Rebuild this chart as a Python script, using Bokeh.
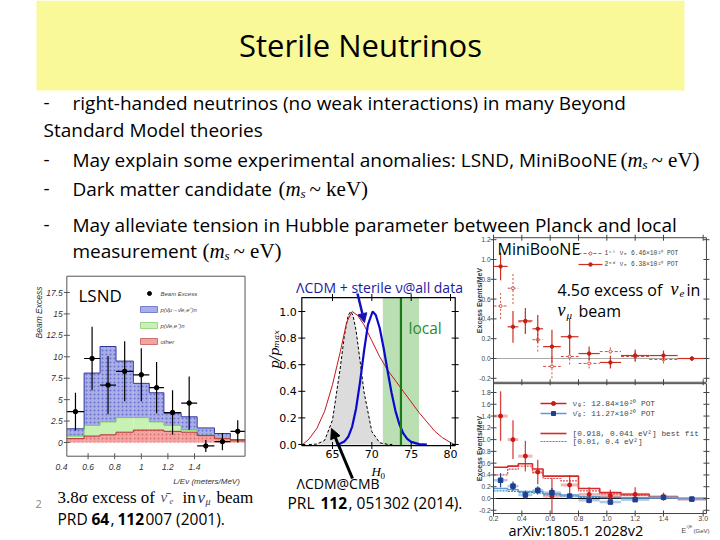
from math import pi
import numpy as np
from bokeh.plotting import figure
from bokeh.models import Range1d, Arrow, NormalHead
from bokeh.core.properties import value
from bokeh.embed import file_html
from bokeh.resources import INLINE

# ------------------------------------------------------------------ data
# LSND beam excess vs L/E (bin edges read against the printed tick labels)
lsnd_edges = [0.44, 0.57, 0.69, 0.81, 0.94, 1.06, 1.17, 1.30, 1.42, 1.55, 1.67, 1.78]
lsnd_excess = [3.6, 9.8, 6.7, 8.3, 7.9, 6.4, 3.5, 4.6, -0.4, 0.1, 1.3]
lsnd_excess_err = [2.2, 3.7, 3.4, 3.5, 3.1, 3.0, 2.6, 3.1, 0.7, 1.0, 1.3]
lsnd_other = [0.45, 0.75, 0.9, 1.2, 1.45, 1.45, 1.3, 1.2, 0.8, 0.45, 0.2]
lsnd_nuebar = [0.3, 1.25, 1.5, 1.7, 1.45, 0.95, 0.7, 0.25, 0.05, 0.15, 0.1]
lsnd_osc = [0.85, 6.1, 8.8, 6.6, 4.0, 3.4, 1.4, 1.55, 0.85, 0.45, 0.05]
lsnd_xticks = [0.4, 0.6, 0.8, 1.0, 1.2, 1.4]
lsnd_xtick_labels = ["0.4", "0.6", "0.8", "1", "1.2", "1.4"]
lsnd_yticks = [0, 2.5, 5, 7.5, 10, 12.5, 15, 17.5]
lsnd_ytick_labels = ["0", "2.5", "5", "7.5", "10", "12.5", "15", "17.5"]
lsnd_legend = ["Beam Excess", "p(ν̄μ→ν̄e,e⁺)n", "p(ν̄e,e⁺)n", "other"]

# H0 posteriors (p / p_max)
h0_cmb_x = [62.0, 63.0, 64.0, 65.0, 66.0, 66.5, 67.0, 67.3, 67.6, 68.0, 68.5, 69.0, 70.0, 71.0, 72.0, 72.6]
h0_cmb_p = [0.0, 0.003, 0.031, 0.184, 0.582, 0.815, 0.972, 1.0, 0.972, 0.855, 0.631, 0.397, 0.097, 0.013, 0.001, 0.0]
h0_sterile_x = [65.5, 66.0, 66.5, 67.0, 67.5, 68.0, 68.5, 69.0, 69.5, 70.1, 70.5, 71.0, 71.5, 72.0,
                72.5, 73.0, 73.5, 74.0, 74.5, 75.0, 76.0, 77.0]
h0_sterile_p = [0.0, 0.007, 0.022, 0.058, 0.135, 0.271, 0.469, 0.699, 0.899, 1.0, 0.974, 0.876, 0.726, 0.555,
                0.391, 0.253, 0.152, 0.083, 0.042, 0.020, 0.003, 0.0]
h0_wide_x = [61.2, 62.0, 63.0, 64.0, 65.0, 66.0, 66.8, 67.5, 68.2, 69.0, 70.0, 71.0, 72.0, 73.0, 74.0,
             75.0, 76.0, 77.0, 78.0, 79.0, 80.0, 80.5]
h0_wide_p = [0.0, 0.04, 0.12, 0.25, 0.45, 0.7, 0.92, 1.0, 0.97, 0.9, 0.78, 0.66, 0.56, 0.48, 0.40,
             0.32, 0.24, 0.17, 0.10, 0.05, 0.015, 0.0]
h0_local_band = [71.4, 76.0]
h0_local = 73.7
h0_xticks = [65, 70, 75, 80]
h0_xtick_labels = ["65", "70", "75", "80"]
h0_yticks = [0.0, 0.2, 0.4, 0.6, 0.8, 1.0]
h0_ytick_labels = ["0.0", "0.2", "0.4", "0.6", "0.8", "1.0"]

# MiniBooNE excess events / MeV (last bin 1.5-3.0 GeV is drawn compressed)
mb_edges = [0.2, 0.3, 0.375, 0.475, 0.55, 0.675, 0.8, 0.95, 1.1, 1.3, 1.5, 1.7]
mb_centers = [0.25, 0.3375, 0.425, 0.5125, 0.6125, 0.7375, 0.875, 1.025, 1.2, 1.4, 1.6]
mb_run1 = [0.53, 0.71, 0.37, 0.19, -0.08, 0.02, -0.05, 0.07, 0.02, -0.01, 0.0]
mb_run1_err = [0.13, 0.16, 0.12, 0.12, 0.12, 0.08, 0.05, 0.06, 0.05, 0.04, 0.02]
mb_run2 = [0.93, 0.32, 0.38, 0.30, 0.12, 0.22, 0.05, -0.04, 0.03, 0.03, 0.0]
mb_run2_err = [0.14, 0.16, 0.13, 0.14, 0.17, 0.18, 0.07, 0.06, 0.06, 0.05, 0.02]
mb_nu = [1.40, 1.00, 0.72, 0.45, 0.04, 0.23, 0.07, 0.05, 0.07, 0.03, -0.01]
mb_nu_err = [0.42, 0.33, 0.26, 0.21, 0.30, 0.17, 0.12, 0.10, 0.12, 0.07, 0.02]
mb_nubar = [0.31, 0.21, 0.06, 0.14, 0.10, 0.04, -0.03, -0.06, -0.02, 0.02, -0.01]
mb_nubar_err = [0.12, 0.08, 0.07, 0.07, 0.08, 0.05, 0.05, 0.04, 0.04, 0.03, 0.02]
mb_fit_nu = [0.53, 0.55, 0.59, 0.50, 0.38, 0.38, 0.17, 0.10, 0.07, 0.03, 0.0]
mb_fit_nu_alt = [0.40, 0.50, 0.55, 0.44, 0.34, 0.30, 0.13, 0.08, 0.05, 0.02, 0.0]
mb_fit_nubar = [0.17, 0.15, 0.12, 0.12, 0.08, 0.06, 0.03, 0.02, 0.01, 0.01, 0.0]
mb_fit_nubar_alt = [0.13, 0.12, 0.10, 0.09, 0.06, 0.04, 0.02, 0.01, 0.01, 0.0, 0.0]
mb_xticks = [0.2, 0.4, 0.6, 0.8, 1.0, 1.2, 1.4, 1.68]
mb_xtick_labels = ["0.2", "0.4", "0.6", "0.8", "1.0", "1.2", "1.4", "3.0"]
mb_top_yticks = [-0.2, 0.0, 0.2, 0.4, 0.6, 0.8, 1.0, 1.2]
mb_top_ytick_labels = ["-0.2", "0.0", "0.2", "0.4", "0.6", "0.8", "1.0", "1.2"]
mb_bot_yticks = [-0.2, 0.0, 0.2, 0.4, 0.6, 0.8, 1.0, 1.2, 1.4, 1.6, 1.8]
mb_bot_ytick_labels = ["-0.2", "0.0", "0.2", "0.4", "0.6", "0.8", "1.0", "1.2", "1.4", "1.6", "1.8"]

# ------------------------------------------------------------------ canvas
PX0, PX1, PY0, PY1 = 0, 720, 540, 0
p = figure(width=720, height=540, x_range=Range1d(PX0, PX1), y_range=Range1d(PY0, PY1),
           toolbar_location=None, output_backend="svg", min_border=0,
           x_axis_location=None, y_axis_location=None)
p.xgrid.visible = False
p.ygrid.visible = False
p.outline_line_color = None
p.background_fill_color = "white"
p.border_fill_color = "white"

xr, yr = {}, {}


def map_x(name, va, pa, vb, pb):
    s = (pb - pa) / (vb - va)
    xr[name] = Range1d(va - (pa - PX0) / s, va + (PX1 - pa) / s)


def map_y(name, va, pa, vb, pb):
    s = (pa - pb) / (vb - va)
    yr[name] = Range1d(va - (PY0 - pa) / s, va + (pa - PY1) / s)


map_x("lx", 0.4, 61, 1.4, 194)
map_y("ly", 0.0, 442, 17.5, 292)
map_x("hx", 65, 332, 80, 450)
map_y("hy", 0.0, 444, 1.0, 311)
map_x("mx", 0.2, 493, 1.4, 663)
map_y("mt", 0.0, 358, 1.0, 259)
map_y("mb", 0.0, 498, 1.8, 392)
p.extra_x_ranges = xr
p.extra_y_ranges = yr

LS = dict(x_range_name="lx", y_range_name="ly")
HS = dict(x_range_name="hx", y_range_name="hy")
MT = dict(x_range_name="mx", y_range_name="mt")
MB = dict(x_range_name="mx", y_range_name="mb")


def txt(x, y, s, size, font="Open Sans", color="black", style="normal", align="left",
        baseline="middle", angle=0.0, rng=None, xo=0, yo=0):
    if isinstance(s, str):
        x, y, s = [x], [y], [s]
    p.text(x=list(x), y=list(y), text=list(s), text_font=value(font), text_font_size=f"{size}px",
           text_color=color, text_font_style=style, text_align=align, text_baseline=baseline,
           angle=angle, x_offset=xo, y_offset=yo, **(rng or {}))


def math_ms(x, y, unit, size=21):
    txt(x, y, "(", size, font="Liberation Serif")
    txt(x + 7, y, "m", size, font="Liberation Serif", style="italic")
    txt(x + 22, y + 5, "s", size * 0.62, font="Liberation Serif", style="italic")
    txt(x + 31, y, "~ " + unit + ")", size, font="Liberation Serif")


# ------------------------------------------------------------------ slide header + text
p.quad(left=[36], right=[684], top=[0], bottom=[90], fill_color="#FAF99A", line_color=None)
txt(360, 44, "Sterile Neutrinos", 31, align="center")

BODY = 19
txt(43, 102, "-", BODY)
txt(72, 102, "right-handed neutrinos (no weak interactions) in many Beyond", BODY)
txt(43, 129, "Standard Model theories", BODY)
txt(43, 159, "-", BODY)
txt(72, 159, "May explain some experimental anomalies: LSND, MiniBooNE", BODY)
math_ms(620, 159, "eV")
txt(43, 188, "-", BODY)
txt(72, 188, "Dark matter candidate", BODY)
math_ms(278, 188, "keV")
txt(43, 224, "-", BODY)
txt(72, 224, "May alleviate tension in Hubble parameter between Planck and local", BODY)
txt(72, 250, "measurement", BODY)
math_ms(202, 250, "eV")

# ------------------------------------------------------------------ LSND inset
e = np.array(lsnd_edges)
lo, hi = e[:-1], e[1:]
mid = (lo + hi) / 2
c1 = np.array(lsnd_other)
c2 = c1 + np.array(lsnd_nuebar)
c3 = c2 + np.array(lsnd_osc)
p.quad(left=lo, right=hi, bottom=0, top=c1, fill_color="#F4A3A3", line_color=None,
       hatch_pattern=".", hatch_color="#C83C3C", hatch_alpha=0.5, hatch_scale=4, **LS)
p.quad(left=lo, right=hi, bottom=c1, top=c2, fill_color="#C8F2B4", line_color=None, **LS)
p.quad(left=lo, right=hi, bottom=c2, top=c3, fill_color="#A9AEEA", line_color=None,
       hatch_pattern=".", hatch_color="#3A48B2", hatch_alpha=0.6, hatch_scale=4, **LS)
p.step(x=e, y=np.append(c3, c3[-1]), mode="after", line_color="#2E3A9A", line_width=1, **LS)
p.step(x=e, y=np.append(c2, c2[-1]), mode="after", line_color="#6DBF55", line_width=0.8, **LS)
p.step(x=e, y=np.append(c1, c1[-1]), mode="after", line_color="#B03030", line_width=1, **LS)
ex = np.array(lsnd_excess)
er = np.array(lsnd_excess_err)
p.segment(x0=mid, y0=ex - er, x1=mid, y1=ex + er, line_color="black", line_width=1.2, **LS)
p.segment(x0=lo, y0=ex, x1=hi, y1=ex, line_color="black", line_width=1.2, **LS)
p.scatter(x=mid, y=ex, size=4.5, marker="circle", color="black", **LS)
L_X0, L_X1, L_Y0, L_Y1 = lsnd_edges[0], lsnd_edges[-1], -1.6, 19.4
p.quad(left=[L_X0], right=[L_X1], bottom=[L_Y0], top=[L_Y1], fill_color=None,
       line_color="#555555", line_width=1, **LS)
p.scatter(x=[L_X0] * len(lsnd_yticks), y=lsnd_yticks, marker="dash", size=6, line_color="#555555", **LS)
xt_in = [t for t in lsnd_xticks if L_X0 <= t <= L_X1]
p.scatter(x=xt_in, y=[L_Y0] * len(xt_in), marker="dash", angle=pi / 2, size=6, line_color="#555555", **LS)
txt([L_X0] * len(lsnd_yticks), lsnd_yticks, lsnd_ytick_labels, 8.5, font="Liberation Sans",
    style="italic", align="right", color="#333333", rng=LS, xo=-4)
txt(lsnd_xticks, [L_Y0] * len(lsnd_xticks), lsnd_xtick_labels, 8.5, font="Liberation Sans",
    style="italic", align="center", baseline="top", color="#333333", rng=LS, yo=8)
txt(206, 481, "L/Eν (meters/MeV)", 8, font="Liberation Sans", style="italic", align="center", color="#333333")
txt(38, 312, "Beam Excess", 8.5, font="Liberation Sans", style="italic", align="center",
    color="#333333", angle=pi / 2)
txt(78, 295, "LSND", 17)
# legend
p.scatter(x=[149], y=[293], size=4, color="black")
p.quad(left=[140] * 3, right=[157] * 3, top=[306, 322, 338], bottom=[312, 328, 344],
       fill_color=["#A9AEEA", "#C8F2B4", "#F4A3A3"], line_color=["#3A48B2", "#6DBF55", "#B03030"],
       line_width=0.6)
txt([160] * 4, [293, 309, 325, 341], lsnd_legend, 6, font="Liberation Sans", style="italic", color="#444444")

# captions under LSND
txt(57, 497, "3.8σ excess of", 17, font="Liberation Serif")
txt(160, 496, "ν̄", 15, font="Liberation Serif", style="italic", color="#555577")
txt(169, 500, "e", 9, font="Liberation Serif", style="italic", color="#555577")
txt(182, 497, "in", 17, font="Liberation Serif")
txt(197, 497, "ν", 17, font="Liberation Serif", style="italic", color="#333366")
txt(205, 501, "μ", 10, font="Liberation Serif", style="italic", color="#333366")
txt(216, 497, "beam", 17, font="Liberation Serif")
txt(57, 518, "PRD", 15.5)
txt(91, 518, "64", 15.5, style="bold")
txt(110, 518, ",", 15.5)
txt(117, 518, "112", 15.5, style="bold")
txt(145, 518, "007 (2001).", 15.5)
txt(35, 503, "2", 11, color="#888888")

# ------------------------------------------------------------------ H0 inset
H_X0, H_X1, H_Y0, H_Y1 = 61.1, 80.6, -0.008, 1.105
p.quad(left=[h0_local_band[0]], right=[h0_local_band[1]], bottom=[H_Y0], top=[H_Y1],
       fill_color="#B9DFB2", line_color=None, **HS)
p.varea(x=h0_cmb_x, y1=[0] * len(h0_cmb_x), y2=h0_cmb_p, fill_color="#DCDCDC", **HS)
p.line(x=h0_cmb_x, y=h0_cmb_p, line_color="black", line_dash="3 2", line_width=1, **HS)
p.line(x=h0_wide_x, y=h0_wide_p, line_color="#C8141E", line_width=1, **HS)
p.line(x=h0_sterile_x, y=h0_sterile_p, line_color="#0A0ACD", line_width=2.2, **HS)
p.segment(x0=[h0_local], y0=[H_Y0], x1=[h0_local], y1=[H_Y1], line_color="#1A7A1A", line_width=2.2, **HS)
p.quad(left=[H_X0], right=[H_X1], bottom=[H_Y0], top=[H_Y1], fill_color=None,
       line_color="black", line_width=1.2, **HS)
p.scatter(x=[H_X0] * len(h0_yticks), y=h0_yticks, marker="dash", size=7, line_color="black", **HS)
p.scatter(x=[H_X1] * len(h0_yticks), y=h0_yticks, marker="dash", size=7, line_color="black", **HS)
p.scatter(x=h0_xticks, y=[H_Y0] * len(h0_xticks), marker="dash", angle=pi / 2, size=7, line_color="black", **HS)
p.scatter(x=h0_xticks, y=[H_Y1] * len(h0_xticks), marker="dash", angle=pi / 2, size=7, line_color="black", **HS)
txt([H_X0] * len(h0_yticks), h0_yticks, h0_ytick_labels, 11, font="DejaVu Sans", align="right",
    rng=HS, xo=-5)
txt(h0_xticks, [H_Y0] * len(h0_xticks), h0_xtick_labels, 11, font="DejaVu Sans", align="center",
    baseline="top", rng=HS, yo=4)
txt(274, 349, "p/pₘₐₓ", 13, font="DejaVu Serif", style="italic", align="center", angle=pi / 2)
txt(371, 471, "H", 13, font="Liberation Serif", style="italic")
txt(380, 475, "0", 9, font="Liberation Serif")
txt(379, 287, "ΛCDM + sterile ν@all data", 14, align="center", color="#1A1AA0")
txt(408, 327, "local", 15.5, color="#2E8B2E")
p.add_layout(Arrow(end=NormalHead(size=9, fill_color="#1515B5", line_color="#1515B5"),
                   x_start=357, y_start=293, x_end=364, y_end=322, line_width=2.5, line_color="#1515B5"))
p.add_layout(Arrow(end=NormalHead(size=10, fill_color="black", line_color="black"),
                   x_start=352, y_start=478, x_end=331, y_end=428, line_width=3, line_color="black"))
txt(296, 483, "ΛCDM@CMB", 14)
txt(287, 502, "PRL", 15.5)
txt(320, 502, "112", 15.5, style="bold")
txt(348, 502, ", 051302 (2014).", 15.5)

# ------------------------------------------------------------------ MiniBooNE insets
mbe = np.array(mb_edges)
mlo, mhi = mbe[:-1], mbe[1:]
mc = np.array(mb_centers)
M_X0, M_X1 = 0.2, 1.703
T_Y0, T_Y1 = -0.24, 1.22
B_Y0, B_Y1 = -0.255, 1.95

# top panel
p.segment(x0=[M_X0], y0=[0], x1=[M_X1], y1=[0], line_color="#AAAAAA", line_width=1, **MT)
r1 = np.array(mb_run1); r1e = np.array(mb_run1_err)
r2 = np.array(mb_run2); r2e = np.array(mb_run2_err)
p.segment(x0=mc, y0=r1 - r1e, x1=mc, y1=r1 + r1e, line_color="#D05040", line_dash="2 2", line_width=1, **MT)
p.segment(x0=mlo, y0=r1, x1=mhi, y1=r1, line_color="#D05040", line_dash="3 2", line_width=1, **MT)
p.scatter(x=mc, y=r1, size=3, marker="circle", fill_color="white", line_color="#D05040", **MT)
p.segment(x0=mc, y0=r2 - r2e, x1=mc, y1=r2 + r2e, line_color="#D0301E", line_width=1.2, **MT)
p.segment(x0=mlo, y0=r2, x1=mhi, y1=r2, line_color="#D0301E", line_width=1.2, **MT)
p.scatter(x=mc, y=r2, size=3.5, marker="circle", color="#C0201A", **MT)
p.quad(left=[M_X0], right=[M_X1], bottom=[T_Y0], top=[T_Y1], fill_color=None,
       line_color="#444444", line_width=1, **MT)
p.scatter(x=[M_X0] * len(mb_top_yticks), y=mb_top_yticks, marker="dash", size=6, line_color="#444444", **MT)
p.scatter(x=[M_X1] * len(mb_top_yticks), y=mb_top_yticks, marker="dash", size=6, line_color="#444444", **MT)
p.scatter(x=mb_xticks, y=[T_Y0] * len(mb_xticks), marker="dash", angle=pi / 2, size=6, line_color="#444444", **MT)
p.scatter(x=mb_xticks, y=[T_Y1] * len(mb_xticks), marker="dash", angle=pi / 2, size=6, line_color="#444444", **MT)
txt([M_X0] * len(mb_top_yticks), mb_top_yticks, mb_top_ytick_labels, 6.5, font="Liberation Sans",
    align="right", color="#444444", rng=MT, xo=-3)
txt(479, 300, "Excess Events/MeV", 7, font="Liberation Sans", style="bold", align="center",
    color="#333333", angle=pi / 2)
txt(497, 248, "MiniBooNE", 16)
p.line(x=[578, 602], y=[253, 253], line_color="#D05040", line_dash="3 2", line_width=1)
p.scatter(x=[590], y=[253], size=3, fill_color="white", line_color="#D05040")
p.line(x=[578, 602], y=[264, 264], line_color="#D0301E", line_width=1.2)
p.scatter(x=[590], y=[264], size=3.5, color="#C0201A")
txt([604, 604], [253, 264], ["1ˢᵗ νₑ 6.46×10²⁰ POT", "2ⁿᵈ νₑ 6.38×10²⁰ POT"], 6.3,
    font="Liberation Mono", color="#444444")
txt(557, 289, "4.5σ excess of", 16)
txt(670, 288, "ν", 18, font="Liberation Serif", style="italic")
txt(679, 293, "e", 11, font="Liberation Serif", style="italic")
txt(686, 289, "in", 16)
txt(557, 309, "ν", 18, font="Liberation Serif", style="italic")
txt(566, 314, "μ", 11, font="Liberation Serif", style="italic")
txt(578, 310, "beam", 16)

# bottom panel
p.segment(x0=[M_X0], y0=[0], x1=[M_X1], y1=[0], line_color="black", line_width=1, **MB)
fn = np.array(mb_fit_nu); fna = np.array(mb_fit_nu_alt)
fb = np.array(mb_fit_nubar); fba = np.array(mb_fit_nubar_alt)
p.step(x=mbe, y=np.append(fn, fn[-1]), mode="after", line_color="#D82828", line_width=1.6, **MB)
p.step(x=mbe, y=np.append(fna, fna[-1]), mode="after", line_color="#D85050", line_dash="2 1", line_width=1.2, **MB)
p.step(x=mbe, y=np.append(fb, fb[-1]), mode="after", line_color="#5A9AD8", line_width=1.4, **MB)
p.step(x=mbe, y=np.append(fba, fba[-1]), mode="after", line_color="#3A8AC0", line_dash="2 1", line_width=1.2, **MB)
nu = np.array(mb_nu); nue = np.array(mb_nu_err)
nb = np.array(mb_nubar); nbe = np.array(mb_nubar_err)
p.segment(x0=mlo, y0=nu, x1=mhi, y1=nu, line_color="#E06060", line_width=3, line_alpha=0.45, **MB)
p.segment(x0=mc, y0=nu - nue, x1=mc, y1=nu + nue, line_color="#D02020", line_width=1.3, line_alpha=0.85, **MB)
p.scatter(x=mc, y=nu, size=4, marker="circle", color="#C81818", **MB)
p.segment(x0=mlo, y0=nb, x1=mhi, y1=nb, line_color="#7AA7D8", line_width=2.5, line_alpha=0.6, **MB)
p.segment(x0=mc, y0=nb - nbe, x1=mc, y1=nb + nbe, line_color="#1F4590", line_width=1.2, **MB)
p.scatter(x=mc, y=nb, size=4.5, marker="square", color="#1F3F8F", **MB)
p.quad(left=[M_X0], right=[M_X1], bottom=[B_Y0], top=[B_Y1], fill_color=None,
       line_color="#444444", line_width=1, **MB)
p.scatter(x=[M_X0] * len(mb_bot_yticks), y=mb_bot_yticks, marker="dash", size=6, line_color="#444444", **MB)
p.scatter(x=[M_X1] * len(mb_bot_yticks), y=mb_bot_yticks, marker="dash", size=6, line_color="#444444", **MB)
p.scatter(x=mb_xticks, y=[B_Y0] * len(mb_xticks), marker="dash", angle=pi / 2, size=6, line_color="#444444", **MB)
txt([M_X0] * len(mb_bot_yticks), mb_bot_yticks, mb_bot_ytick_labels, 6.5, font="Liberation Sans",
    align="right", color="#444444", rng=MB, xo=-3)
txt(mb_xticks, [B_Y0] * len(mb_xticks), mb_xtick_labels, 7, font="Liberation Sans", align="center",
    baseline="top", color="#444444", rng=MB, yo=2)
txt(479, 448, "Excess Events/MeV", 7, font="Liberation Sans", style="bold", align="center",
    color="#333333", angle=pi / 2)
# legend
p.line(x=[540, 566], y=[403, 403], line_color="#D02020", line_width=1.5)
p.scatter(x=[553], y=[403], size=4, color="#C81818")
p.line(x=[540, 566], y=[413, 413], line_color="#5A9AD8", line_width=1.5)
p.scatter(x=[553], y=[413], size=4, marker="square", color="#1F3F8F")
p.line(x=[540, 566], y=[433, 433], line_color="#D82828", line_width=1.6)
p.line(x=[540, 566], y=[441, 441], line_color="#D85050", line_dash="2 1", line_width=1.2)
txt([572] * 4, [403, 413, 433, 441],
    ["νₑ: 12.84×10²⁰ POT", "ν̄ₑ: 11.27×10²⁰ POT", "[0.918, 0.041 eV²] best fit", "[0.01, 0.4 eV²]"],
    7.8, font="Liberation Mono", color="#444444")
txt(681, 530, "E", 7, font="Liberation Sans", color="#444444")
txt(686, 526, "QE", 4, font="Liberation Sans", color="#444444")
txt(693, 530, "(GeV)", 6, font="Liberation Sans", color="#444444")
txt(508, 530, "arXiv:1805.1 2028v2", 14.5)

open("out.html", "w").write(file_html(p, INLINE))
